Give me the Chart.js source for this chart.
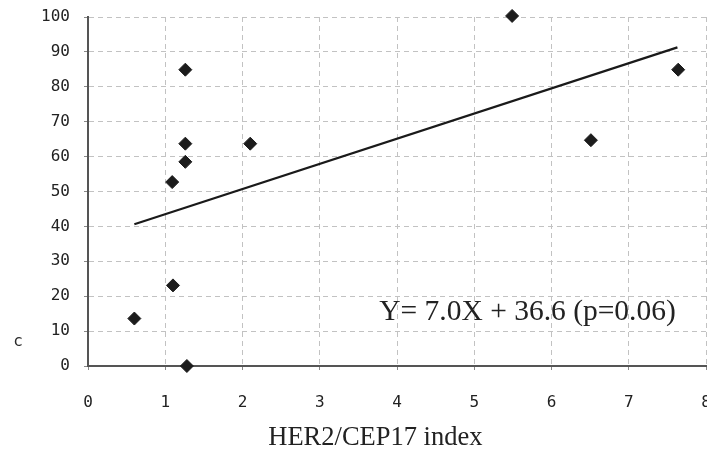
<!DOCTYPE html>
<html>
<head>
<meta charset="utf-8">
<script src="https://cdn.jsdelivr.net/npm/chart.js@4"></script>
<style>
  html, body { margin: 0; padding: 0; background: #fff; }
  #wrap { width: 707px; height: 454px; }
</style>
</head>
<body>
<div id="wrap"><canvas id="chart" width="707" height="454"></canvas></div>
<script>
// values
const herIndex = [0.6, 1.1, 1.28, 1.09, 1.26, 1.26, 1.26, 2.1, 5.49, 6.51, 7.64];
const cValues  = [13.6, 23.1, 0, 52.7, 58.5, 63.7, 84.9, 63.7, 100.3, 64.7, 84.9];
// ends of the fitted line as drawn
const fitX = [0.6, 7.63];
const fitY = [40.6, 91.3];
const xTicks = [0, 1, 2, 3, 4, 5, 6, 7, 8];
const yTicks = [0, 10, 20, 30, 40, 50, 60, 70, 80, 90, 100];

const xTitle = 'HER2/CEP17 index';
const yTitle = 'c';
const equation = 'Y= 7.0X + 36.6 (p=0.06)';

const points = herIndex.map((x, i) => ({ x: x, y: cValues[i] }));
const fitLine = fitX.map((x, i) => ({ x: x, y: fitY[i] }));

// Draw the equation and axis titles
const textPlugin = {
    id: 'texts',
    afterDraw(chart) {
        const ctx = chart.ctx;
        const xs = chart.scales.x, ys = chart.scales.y;
        ctx.save();
        ctx.fillStyle = '#222';
        ctx.textAlign = 'center';
        ctx.textBaseline = 'middle';
        ctx.font = '29.5px "Liberation Serif"';
        ctx.fillText(equation, xs.getPixelForValue(5.69), ys.getPixelForValue(15.4));
        ctx.font = '26.5px "Liberation Serif"';
        ctx.fillText(xTitle, xs.getPixelForValue(3.72), chart.chartArea.bottom + 72);
        ctx.font = '16px "DejaVu Sans Mono"';
        ctx.fillStyle = '#2a2a2a';
        ctx.fillText(yTitle, 18, ys.getPixelForValue(7));
        ctx.restore();
    }
};

const gridOpts = { color: '#c2c2c2', lineWidth: 1, tickLength: 4, tickColor: '#888' };
const borderOpts = { display: true, color: '#555', width: 2, dash: [5, 4] };

const chart = new Chart(document.getElementById('chart').getContext('2d'), {
    type: 'scatter',
    data: {
        datasets: [
            {
                label: 'c',
                data: points,
                clip: false,
                pointStyle: 'rectRot',
                pointRadius: 6.5,
                pointHoverRadius: 6.5,
                backgroundColor: '#1c1c1c',
                borderColor: '#1c1c1c',
                borderWidth: 1,
            },
            {
                label: 'fit',
                data: fitLine,
                showLine: true,
                pointRadius: 0,
                borderColor: '#1a1a1a',
                borderWidth: 2.2,
                fill: false,
            },
        ],
    },
    options: {
        responsive: false,
        animation: false,
        layout: { autoPadding: false, padding: { top: 17, right: 1, left: 0, bottom: 0 } },
        plugins: {
            legend: { display: false },
            tooltip: { enabled: false },
        },
        scales: {
            x: {
                type: 'linear',
                min: 0, max: 8,
                afterBuildTicks: (s) => { s.ticks = xTicks.map(v => ({ value: v })); },
                afterFit: (s) => { s.height = 88; s.paddingLeft = 0; s.paddingRight = 0; },
                grid: gridOpts,
                border: borderOpts,
                ticks: { color: '#222', padding: 23, maxRotation: 0, font: { family: 'DejaVu Sans Mono', size: 16 } },
            },
            y: {
                type: 'linear',
                min: 0, max: 100,
                afterBuildTicks: (s) => { s.ticks = yTicks.map(v => ({ value: v })); },
                afterFit: (s) => { s.width = 88; s.paddingTop = 0; s.paddingBottom = 0; },
                grid: gridOpts,
                border: borderOpts,
                ticks: { color: '#222', padding: 14, font: { family: 'DejaVu Sans Mono', size: 16 } },
            },
        },
    },
    plugins: [textPlugin],
});
</script>
</body>
</html>
